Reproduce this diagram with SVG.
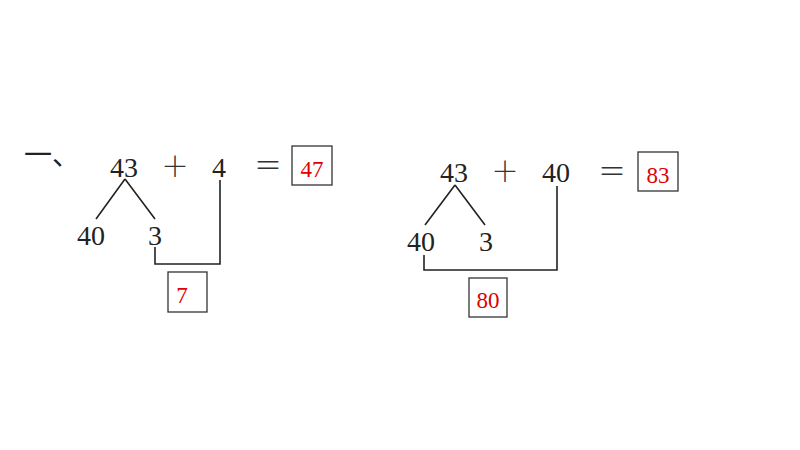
<svg xmlns="http://www.w3.org/2000/svg" width="800" height="450" viewBox="0 0 800 450">
<style>
.n{font-family:"Liberation Serif","Noto Serif",serif;font-size:28px;fill:#222;text-anchor:middle}
.op{font-family:"Noto Sans CJK SC","Liberation Sans",sans-serif;font-size:28px;fill:#333;text-anchor:middle;font-weight:300}
.a{font-family:"Liberation Serif",serif;font-size:23px;fill:#e00000;text-anchor:middle}
.box{fill:none;stroke:#333;stroke-width:1.3}
.ln{fill:none;stroke:#222;stroke-width:1.6}
</style>
<rect width="800" height="450" fill="#fff"/>
<text x="24" y="165" font-family="Noto Sans CJK SC,sans-serif" font-size="28" fill="#222">一、</text>
<g id="left">
<g id="l43"><text class="n" x="124" y="177">43</text></g>
<g id="lplus"><text class="op" x="175" y="177">＋</text></g>
<g id="l4"><text class="n" x="219" y="177">4</text></g>
<g id="leq"><text class="op" x="268" y="176">＝</text></g>
<g id="l47"><rect class="box" x="292" y="146" width="40" height="39"/><text class="a" x="312" y="177">47</text></g>
<g id="l40"><text class="n" x="91" y="245">40</text></g>
<g id="l3"><text class="n" x="155" y="245">3</text></g>
<g id="l7"><rect class="box" x="168" y="272" width="39" height="40"/><text class="a" x="182" y="303">7</text></g>
</g>
<g id="right">
<g id="r43"><text class="n" x="454" y="182">43</text></g>
<g id="rplus"><text class="op" x="505" y="182">＋</text></g>
<g id="r40a"><text class="n" x="556" y="182">40</text></g>
<g id="req"><text class="op" x="612" y="182">＝</text></g>
<g id="r83"><rect class="box" x="638" y="152" width="40" height="39"/><text class="a" x="658" y="183">83</text></g>
<g id="r40"><text class="n" x="421" y="251">40</text></g>
<g id="r3"><text class="n" x="486" y="251">3</text></g>
<g id="r80"><rect class="box" x="469" y="278" width="38" height="39"/><text class="a" x="488" y="308">80</text></g>
</g>
<g id="connectors">
<path class="ln" d="M125 179 L96 219 M125 179 L155 219"/>
<path class="ln" d="M155 247 V264 H220 V180"/>
<path class="ln" d="M455 185 L425 225 M455 185 L485 225"/>
<path class="ln" d="M424 255 V270 H557 V186"/>
</g>
</svg>
